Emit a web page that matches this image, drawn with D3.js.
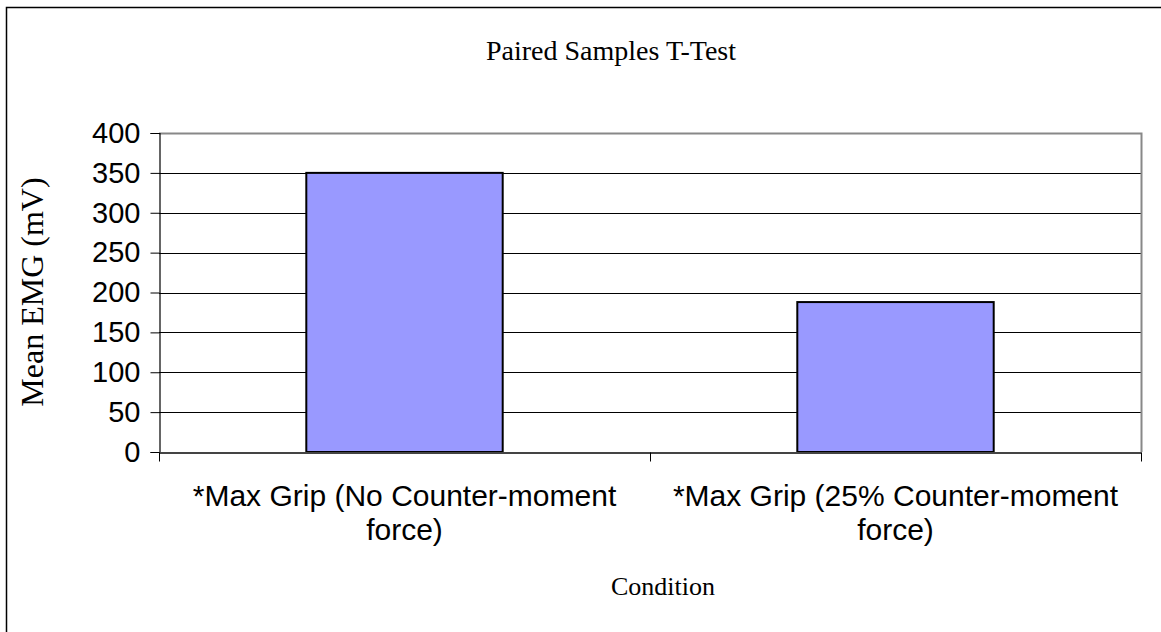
<!DOCTYPE html>
<html>
<head>
<meta charset="utf-8">
<script src="https://cdn.jsdelivr.net/npm/d3@7"></script>
<style>
  body { margin: 0; background: #fff; }
  svg { display: block; }
</style>
</head>
<body>
<script>
// chart values
const categories = ["*Max Grip (No Counter-moment force)", "*Max Grip (25% Counter-moment force)"]
const categoryLines = [["*Max Grip (No Counter-moment", "force)"], ["*Max Grip (25% Counter-moment", "force)"]]
const meanEmg = [350, 188]
const yTicks = [0, 50, 100, 150, 200, 250, 300, 350, 400]

const width = 1161
const height = 632
const plot = { left: 159, top: 133, right: 1141, bottom: 452 }
const sans = "'Liberation Sans', Arial, sans-serif"
const serif = "'Liberation Serif', 'Times New Roman', serif"

let svg = d3.select("body").append("svg")
    .attr("width", width)
    .attr("height", height)

// outer chart border (only left/top visible in the frame)
svg.append("rect")
    .attr("x", 6.5).attr("y", 7.5)
    .attr("width", width + 10).attr("height", height + 10)
    .attr("fill", "#fff")
    .attr("stroke", "#000")
    .attr("stroke-width", 1.5)

let x = d3.scaleBand()
    .domain(categories)
    .range([plot.left, plot.right])
    .paddingInner(0)
    .paddingOuter(0)

let y = d3.scaleLinear()
    .domain([0, 400])
    .range([plot.bottom, plot.top])

// gridlines
svg.append("g").selectAll("line")
    .data(yTicks.filter(d => d > 0 && d < 400)).enter()
    .append("line")
        .attr("x1", plot.left).attr("x2", plot.right)
        .attr("y1", d => Math.round(y(d)) + 0.5)
        .attr("y2", d => Math.round(y(d)) + 0.5)
        .attr("stroke", "#000")
        .attr("stroke-width", 1)

// plot frame top/right (gray)
svg.append("path")
    .attr("d", `M${plot.left},${plot.top + 0.5}H${plot.right + 0.5}V${plot.bottom}`)
    .attr("fill", "none")
    .attr("stroke", "#888")
    .attr("stroke-width", 2)

// bars
let barW = x.bandwidth() / 2.5
svg.append("g").selectAll("rect")
    .data(meanEmg).enter()
    .append("rect")
        .attr("x", (d, i) => x(categories[i]) + (x.bandwidth() - barW) / 2)
        .attr("y", d => y(d))
        .attr("width", barW)
        .attr("height", d => plot.bottom - y(d))
        .attr("fill", "#9999ff")
        .attr("stroke", "#000")
        .attr("stroke-width", 2)

// y axis
let yAxis = d3.axisLeft(y).tickValues(yTicks).tickSize(9).tickPadding(10)
let gy = svg.append("g")
    .attr("transform", `translate(${plot.left + 0.5},0)`)
    .call(yAxis)
gy.select(".domain").attr("stroke", "#000").attr("stroke-width", 1.2)
gy.selectAll("text")
    .attr("font-family", sans)
    .attr("font-size", 29)
    .attr("fill", "#000")

// x axis
let xAxis = d3.axisBottom(x).tickValues([]).tickSizeOuter(0)
let gx = svg.append("g")
    .attr("transform", `translate(0,${plot.bottom + 0.5})`)
    .call(xAxis)
gx.select(".domain").attr("stroke", "#444").attr("stroke-width", 2)
gx.selectAll("line.sep")
    .data([plot.left, plot.left + x.bandwidth(), plot.right]).enter()
    .append("line")
        .attr("class", "sep")
        .attr("x1", d => d + 0.5).attr("x2", d => d + 0.5)
        .attr("y1", 0).attr("y2", 9)
        .attr("stroke", "#000")

// category labels
let catG = svg.append("g")
categoryLines.forEach((lines, i) => {
    let cx = x(categories[i]) + x.bandwidth() / 2
    lines.forEach((t, j) => {
        catG.append("text")
            .attr("x", cx)
            .attr("y", 506 + j * 34)
            .attr("text-anchor", "middle")
            .attr("font-family", sans)
            .attr("font-size", 30)
            .text(t)
    })
})

// title and axis titles
svg.append("text")
    .attr("x", 611).attr("y", 60)
    .attr("text-anchor", "middle")
    .attr("font-family", serif)
    .attr("font-size", 28)
    .text("Paired Samples T-Test")

svg.append("text")
    .attr("transform", "translate(43,292) rotate(-90)")
    .attr("text-anchor", "middle")
    .attr("font-family", serif)
    .attr("font-size", 32)
    .text("Mean EMG (mV)")

svg.append("text")
    .attr("x", 663).attr("y", 595)
    .attr("text-anchor", "middle")
    .attr("font-family", serif)
    .attr("font-size", 26)
    .text("Condition")
</script>
</body>
</html>
